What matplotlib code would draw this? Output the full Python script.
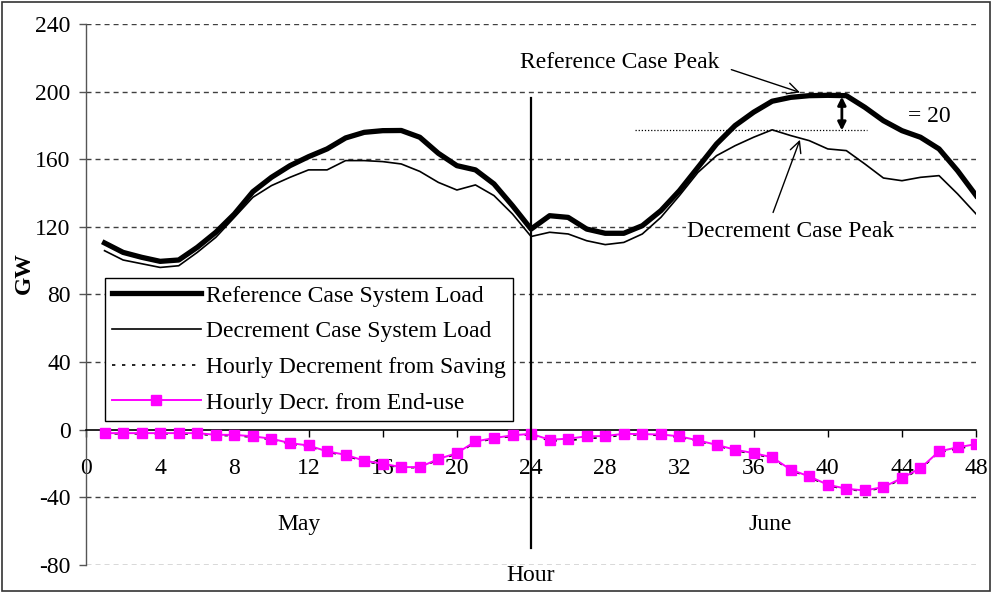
import matplotlib
matplotlib.use("Agg")
import matplotlib.pyplot as plt
from matplotlib.patches import Rectangle

plt.rcParams['font.family'] = ['Liberation Serif', 'DejaVu Serif']
plt.rcParams['axes.unicode_minus'] = False

# hourly system load, two peak days (May: hours 1-24, June: hours 25-48)
hours = list(range(1, 49))
ref_load = [110.5, 104.9, 102.0, 99.6, 100.4, 107.9, 116.8, 127.6, 140.8, 149.3,
            156.2, 161.5, 166.1, 172.6, 175.9, 176.9, 177.0, 173.0, 163.5, 156.2,
            153.7, 145.4, 132.5, 118.7, 126.6, 125.6, 118.7, 116.2, 116.2, 120.7,
            129.6, 141.4, 155.2, 169.0, 179.9, 187.8, 194.3, 196.6, 197.6, 197.8,
            197.6, 190.7, 182.8, 176.9, 173.0, 166.1, 153.2, 138.5]
dec_load = [105.9, 100.4, 98.2, 96.0, 97.0, 104.9, 113.8, 125.6, 137.5, 144.4,
            149.3, 153.7, 153.7, 159.2, 159.2, 158.6, 157.2, 152.8, 146.3, 141.8,
            144.8, 138.5, 127.6, 114.3, 116.8, 115.8, 111.8, 109.5, 110.8, 115.8,
            125.6, 138.5, 152.2, 162.1, 168.0, 173.0, 177.4, 174.0, 171.0, 166.1,
            165.1, 157.2, 148.9, 147.3, 149.3, 150.3, 139.5, 127.6]
saving = [-2.4, -2.4, -2.4, -2.4, -2.4, -2.6, -3.4, -3.5, -4.4, -5.8,
          -8.3, -9.8, -13.2, -15.3, -18.8, -20.6, -22.4, -22.4, -17.8, -14.3,
          -7.4, -5.4, -3.8, -2.8, -6.6, -6.4, -5.2, -4.6, -3.0, -3.1,
          -3.3, -4.4, -6.8, -9.4, -12.3, -14.3, -16.8, -24.0, -28.1, -33.0,
          -35.3, -36.3, -34.4, -29.1, -23.2, -13.4, -11.3, -9.2]
enduse = [-2.0, -2.0, -2.0, -2.0, -2.0, -2.0, -3.0, -3.0, -3.9, -5.3,
          -7.9, -9.3, -12.8, -14.8, -18.3, -20.1, -22.1, -22.1, -17.3, -13.8,
          -6.9, -4.9, -3.3, -2.4, -5.9, -5.3, -3.9, -3.7, -2.4, -2.6,
          -2.8, -3.9, -6.3, -8.9, -11.8, -13.8, -16.3, -23.6, -27.6, -32.5,
          -34.9, -35.9, -33.9, -28.6, -22.7, -12.8, -10.4, -8.5]

x_ticks = list(range(0, 49, 4))
y_ticks = list(range(-80, 241, 40))
ref_peak = 197
dec_peak = 177

FS = 17

fig = plt.figure(figsize=(9.92, 5.92), dpi=100)
ax = fig.add_axes([0.0867, 0.0456, 0.8973, 0.9139])

ax.plot(hours, ref_load, color='black', lw=3.8, solid_joinstyle='round',
        label='Reference Case System Load', zorder=4)
ax.plot(hours, dec_load, color='black', lw=1.2,
        label='Decrement Case System Load', zorder=4)
ax.plot(hours, saving, color='black', lw=1.2, ls=(0, (2, 4)),
        label='Hourly Decrement from Saving', zorder=3)
ax.plot(hours, enduse, color='#ff00ff', lw=1.4, marker='s', ms=7.5,
        label='Hourly Decr. from End-use', zorder=5)

ax.set_xlim(0, 48)
ax.set_ylim(-80, 240)
ax.set_xticks(x_ticks)
ax.set_yticks(y_ticks)

for y in y_ticks:
    if y != 0:
        ax.axhline(y, color='#404040', lw=1.0, ls=(0, (3.6, 2.9)), zorder=1)

for s in ['top', 'right']:
    ax.spines[s].set_visible(False)
ax.spines['bottom'].set_position(('data', 0))
ax.spines['bottom'].set_color('black')
ax.spines['bottom'].set_linewidth(1.2)
ax.spines['left'].set_color('#555555')
ax.spines['left'].set_linewidth(1.0)

ax.tick_params(axis='x', direction='out', length=5, width=1, pad=15, labelsize=FS)
ax.tick_params(axis='y', direction='out', length=5, width=1, pad=6, labelsize=FS,
               color='#555555')
ax.set_ylabel('GW', fontsize=FS, fontweight='bold')
ax.yaxis.set_label_coords(-0.057, 0.54)

# day divider
ax.plot([24, 24], [196, -70], color='black', lw=1.6, zorder=6, clip_on=False)

ax.text(11.5, -56, 'May', fontsize=FS, ha='center', va='center')
ax.text(36.9, -56, 'June', fontsize=FS, ha='center', va='center')
ax.text(24, -86, 'Hour', fontsize=FS, ha='center', va='center', clip_on=False)

# peak annotations
ax.text(28.8, 217.5, 'Reference Case Peak', fontsize=FS, ha='center', va='center')
ax.annotate('', xy=(38.5, 199.5), xytext=(34.8, 213),
            arrowprops=dict(arrowstyle='->', color='black', lw=1,
                            shrinkA=0, shrinkB=0, mutation_scale=20))
ax.text(38.0, 117.5, 'Decrement Case Peak', fontsize=FS, ha='center', va='center',
        bbox=dict(facecolor='white', edgecolor='none', pad=1), zorder=5)
ax.annotate('', xy=(38.5, 171.5), xytext=(37.05, 128.5),
            arrowprops=dict(arrowstyle='->', color='black', lw=1,
                            shrinkA=0, shrinkB=0, mutation_scale=20))
ax.plot([29.6, 42.1], [dec_peak, dec_peak], color='black', lw=0.9,
        ls=(0, (1, 1.5)), zorder=3)
ax.annotate('', xy=(40.76, dec_peak), xytext=(40.76, ref_peak),
            arrowprops=dict(arrowstyle='<|-|>', color='black', lw=2,
                            shrinkA=0, shrinkB=0, mutation_scale=12))
ax.text(44.3, 185, '= %d' % (ref_peak - dec_peak), fontsize=FS, ha='left', va='center')

leg = ax.legend(loc='upper left', bbox_to_anchor=(0.0213, 0.5305), borderaxespad=0,
                fontsize=FS, handlelength=3.75, handletextpad=0.25, labelspacing=0.6,
                borderpad=0.3, frameon=True, fancybox=False, framealpha=1,
                edgecolor='black')
leg.get_frame().set_linewidth(1.0)
leg.set_zorder(7)

# outer border round the figure
fig.add_artist(Rectangle((0.002, 0.002), 0.996, 0.995, transform=fig.transFigure,
                         fill=False, edgecolor='#333333', lw=1.2))

fig.savefig('out.png', dpi=100)
